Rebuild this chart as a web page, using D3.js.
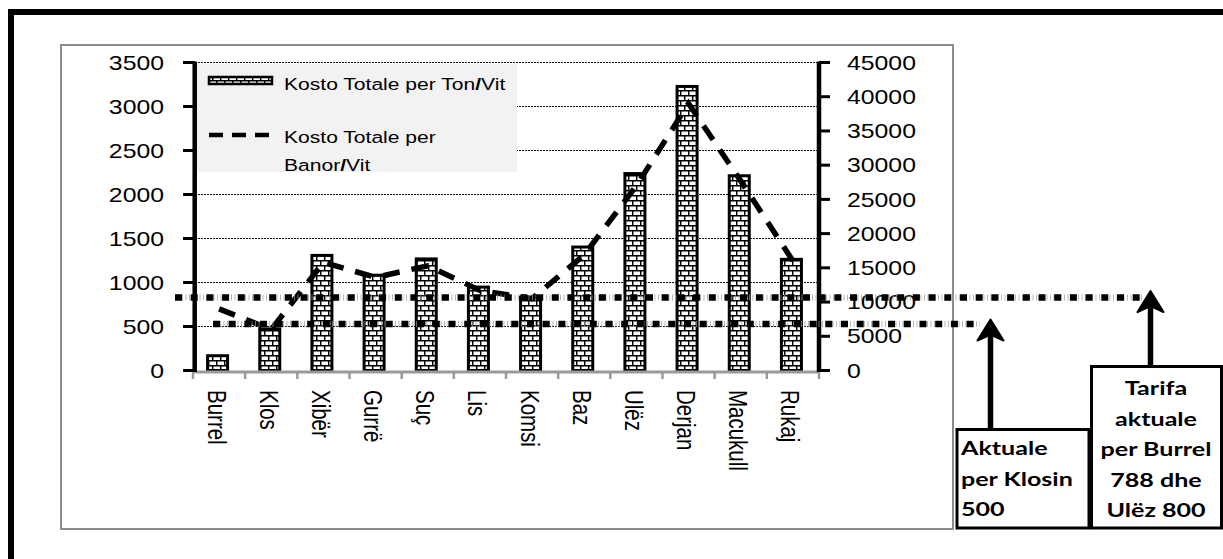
<!DOCTYPE html>
<html>
<head>
<meta charset="utf-8">
<script src="https://cdn.jsdelivr.net/npm/d3@7/dist/d3.min.js"></script>
<style>
  html, body { margin: 0; padding: 0; background: #fff; }
  svg { display: block; }
</style>
</head>
<body>
<svg id="chart" width="1223" height="559"></svg>
<script>
// ---- data ----
const categories = ["Burrel", "Klos", "Xibër", "Gurrë", "Suç", "Lis", "Komsi", "Baz", "Ulëz", "Derjan", "Macukull", "Rukaj"];
const costPerTon = [185, 490, 1325, 1100, 1285, 965, 850, 1420, 2255, 3245, 2230, 1280];
const costPerResident = [9000, 6000, 15800, 13600, 15300, 11700, 10500, 16900, 27000, 39000, 27700, 16000];
const leftTicks = [0, 500, 1000, 1500, 2000, 2500, 3000, 3500];
const rightTicks = [0, 5000, 10000, 15000, 20000, 25000, 30000, 35000, 40000, 45000];
const seriesNames = ["Kosto Totale per Ton/Vit", "Kosto Totale per Banor/Vit"];
const tariffValues = [800, 500];               // current tariffs (Burrel/Ulëz, Klos)
const tariffNotes = [
  ["Tarifa", "aktuale", "per Burrel", "788 dhe", "Ulëz 800"],
  ["Aktuale", "per Klosin", "500"]
];

// ---- setup ----
const SX = 1.24;                 // horizontal stretch of the chart's text
const FONT = "'Liberation Sans', Arial, sans-serif";
const svg = d3.select("#chart");
const defs = svg.append("defs");

// brick fill for the bars
const brick = defs.append("pattern").attr("id", "brick")
  .attr("patternUnits", "userSpaceOnUse").attr("width", 8).attr("height", 10);
brick.append("rect").attr("width", 8).attr("height", 10).attr("fill", "#fff");
brick.append("path")
  .attr("d", "M0,0.7H8 M0,5.7H8 M0.7,0.7V5.7 M4.7,5.7V10")
  .attr("stroke", "#000").attr("stroke-width", 1.5).attr("fill", "none");

defs.append("clipPath").attr("id", "legendClip")
  .append("rect").attr("x", 197).attr("y", 64).attr("width", 320).attr("height", 108);

// ---- scales ----
const x = d3.scaleBand().domain(categories).range([193, 819]);
const yL = d3.scaleLinear().domain([0, 3500]).range([370.5, 62.5]);
const yR = d3.scaleLinear().domain([0, 45000]).range([370.5, 62.5]);
const cx = c => x(c) + x.bandwidth() / 2;

function sText(g, str, tx, ty, opts = {}) {
  const t = g.append("text")
    .attr("transform", `translate(${tx},${ty}) scale(${opts.sx || SX},1)` + (opts.rot ? ` rotate(${opts.rot})` : ""))
    .attr("font-family", opts.font || FONT)
    .attr("font-size", opts.size || 20)
    .attr("font-weight", opts.weight || "normal")
    .attr("text-anchor", opts.anchor || "start")
    .attr("fill", "#000");
  if (opts.dy) t.attr("dy", opts.dy);
  // slashes are drawn heavier
  const parts = str.split("/");
  parts.forEach((p, i) => {
    if (i > 0) t.append("tspan").attr("font-weight", "bold").text("/");
    t.append("tspan").text(p);
  });
  return t;
}

// ---- outer frame and chart area ----
svg.append("rect").attr("x", 11).attr("y", 12).attr("width", 1400).attr("height", 800)
  .attr("fill", "none").attr("stroke", "#000").attr("stroke-width", 6);
svg.append("rect").attr("x", 61).attr("y", 45).attr("width", 892).attr("height", 484)
  .attr("fill", "#fff").attr("stroke", "#8c8c8c").attr("stroke-width", 2);

// ---- gridlines ----
svg.append("g").selectAll("line").data(leftTicks.filter(v => v > 0)).join("line")
  .attr("x1", 195).attr("x2", 818)
  .attr("y1", d => yL(d)).attr("y2", d => yL(d))
  .attr("stroke", "#111").attr("stroke-width", 1).attr("stroke-dasharray", "2,1");

// ---- legend background ----
svg.append("rect").attr("x", 197).attr("y", 64).attr("width", 320).attr("height", 108).attr("fill", "#f2f2f2");

// ---- bars ----
const bw = 20, bs = 3;
svg.append("g").selectAll("rect").data(categories).join("rect")
  .attr("x", d => cx(d) - bw / 2 - 1.5)
  .attr("y", (d, i) => yL(costPerTon[i]) + bs / 2)
  .attr("width", bw)
  .attr("height", (d, i) => yL(0) - yL(costPerTon[i]) - bs / 2)
  .attr("fill", "url(#brick)").attr("stroke", "#000").attr("stroke-width", bs);

// ---- dashed line series ----
const line = d3.line().x((d, i) => cx(categories[i])).y(d => yR(d));
svg.append("path").datum(costPerResident)
  .attr("d", line).attr("fill", "none")
  .attr("stroke", "#000").attr("stroke-width", 5.5).attr("stroke-dasharray", "17,12");

// ---- axes ----
const axes = svg.append("g");
// x axis (grey) with ticks at band edges
axes.append("line").attr("x1", 193).attr("x2", 819).attr("y1", 372).attr("y2", 372)
  .attr("stroke", "#9a9a9a").attr("stroke-width", 3);
const edges = categories.map(c => x(c)).concat([x.range()[1]]);
axes.append("g").selectAll("line").data(edges).join("line")
  .attr("x1", d => d).attr("x2", d => d).attr("y1", 372).attr("y2", 379)
  .attr("stroke", "#9a9a9a").attr("stroke-width", 2.5);
// left value axis
axes.append("line").attr("x1", 194.7).attr("x2", 194.7).attr("y1", yL(3500) - 1).attr("y2", yL(0) + 1.5)
  .attr("stroke", "#000").attr("stroke-width", 4.5);
axes.append("g").selectAll("line").data(leftTicks).join("line")
  .attr("x1", 183).attr("x2", 195).attr("y1", d => yL(d)).attr("y2", d => yL(d))
  .attr("stroke", "#000").attr("stroke-width", 3);
// right value axis
axes.append("line").attr("x1", 819).attr("x2", 819).attr("y1", yR(45000) - 1).attr("y2", yR(0) + 1.5)
  .attr("stroke", "#000").attr("stroke-width", 4.5);
axes.append("g").selectAll("line").data(rightTicks).join("line")
  .attr("x1", 819).attr("x2", 830).attr("y1", d => yR(d)).attr("y2", d => yR(d))
  .attr("stroke", "#000").attr("stroke-width", 3);

// tick labels
const labels = svg.append("g");
leftTicks.forEach(v => sText(labels, String(v), 164, yL(v), { anchor: "end", dy: "0.36em" }));
rightTicks.forEach(v => sText(labels, String(v), 847, yR(v), { dy: "0.36em" }));
categories.forEach(c => sText(labels, c, cx(c) - 11.5, 390, { rot: 90, size: 20.5 }));

// ---- legend ----
const lg = svg.append("g").attr("clip-path", "url(#legendClip)");
lg.append("rect").attr("x", 209).attr("y", 77).attr("width", 63).attr("height", 7)
  .attr("fill", "url(#brick)").attr("stroke", "#000").attr("stroke-width", 2.5);
sText(lg, seriesNames[0], 284, 90, { size: 17 });
lg.append("line").attr("x1", 209).attr("x2", 272).attr("y1", 135).attr("y2", 135)
  .attr("stroke", "#000").attr("stroke-width", 4.5).attr("stroke-dasharray", "14,9");
const words = seriesNames[1].split(" ");
sText(lg, words.slice(0, 3).join(" "), 284, 143, { size: 17 });
sText(lg, words.slice(3).join(" "), 284, 171, { size: 17 });

// ---- tariff reference lines ----
const tariffExtent = [[175, 1142], [213, 980]];
const tg = svg.append("g");
tariffValues.forEach((v, i) => {
  const yy = yL(v) - 2.5;
  tg.append("line").attr("x1", tariffExtent[i][0]).attr("x2", tariffExtent[i][1])
    .attr("y1", yy).attr("y2", yy)
    .attr("stroke", "#9a9a9a").attr("stroke-width", 6).attr("stroke-dasharray", "1,2.5").attr("opacity", 0.7);
  tg.append("line").attr("x1", tariffExtent[i][0]).attr("x2", tariffExtent[i][1])
    .attr("y1", yy).attr("y2", yy)
    .attr("stroke", "#000").attr("stroke-width", 6.5).attr("stroke-dasharray", "7,8.7");
});

// ---- annotation boxes and arrows ----
const ann = svg.append("g");
function arrow(ax, yTip, yBase) {
  ann.append("line").attr("x1", ax).attr("x2", ax).attr("y1", yTip + 16).attr("y2", yBase)
    .attr("stroke", "#000").attr("stroke-width", 5.5);
  ann.append("path")
    .attr("d", `M${ax},${yTip} L${ax + 13},${yTip + 21} L${ax},${yTip + 15} L${ax - 13},${yTip + 21} Z`)
    .attr("fill", "#000").attr("stroke", "#000").attr("stroke-width", 2).attr("stroke-linejoin", "round");
}
arrow(1150.5, yL(tariffValues[0]) - 9, 365);
arrow(990.5, yL(tariffValues[1]) - 7, 428);

// box for Burrel / Ulëz
ann.append("rect").attr("x", 1091.5).attr("y", 366.5).attr("width", 130).attr("height", 161.5)
  .attr("fill", "#fff").attr("stroke", "#000").attr("stroke-width", 3);
tariffNotes[0].forEach((s, i) => sText(ann, s, 1156, 395 + i * 30.5,
  { anchor: "middle", size: 19, weight: 700, font: "Lato, 'Open Sans', sans-serif", sx: 1.32 }));
// box for Klos
ann.append("rect").attr("x", 957).attr("y", 429.5).attr("width", 132).attr("height", 98.5)
  .attr("fill", "#fff").attr("stroke", "#000").attr("stroke-width", 3);
tariffNotes[1].forEach((s, i) => sText(ann, s, 961, 455 + i * 30.5,
  { size: 19, weight: 700, font: "Lato, 'Open Sans', sans-serif", sx: 1.32 }));
</script>
</body>
</html>
